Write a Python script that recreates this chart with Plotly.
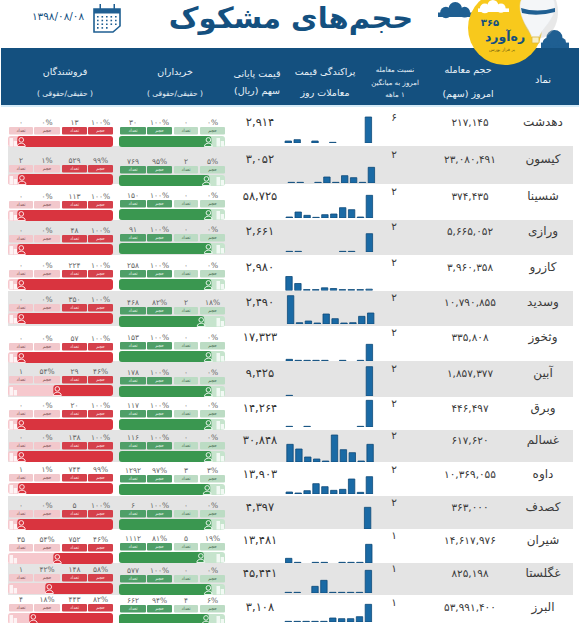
"""Suspicious-volume table (حجم‌های مشکوک): one full-page pixel axis for the table, one small axis per row for the bars."""
import plotly.graph_objects as go

W, H = 585, 623
NAVY, NAVY2, GREY = "#14507f", "#1f5f92", "#e4e4e4"
INK = "#3a3a3a"
FONT = "DejaVu Sans"

SYMBOLS = ["دهدشت", "کیسون", "شسینا", "ورازی", "کازرو", "وسدید", "وثخوز", "آبین",
           "وبرق", "غسالم", "داوه", "کصدف", "شیران", "غگلستا", "البرز"]
VOLUMES = ["۲۱۷,۱۴۵", "۲۳,۰۸۰,۴۹۱", "۳۷۴,۴۳۵", "۵,۶۶۵,۰۵۲", "۳,۹۶۰,۳۵۸", "۱۰,۷۹۰,۸۵۵",
           "۳۳۵,۸۰۸", "۱,۸۵۷,۳۷۷", "۴۴۶,۴۹۷", "۶۱۷,۶۲۰", "۱۰,۳۶۹,۰۵۵", "۳۶۳,۰۰۰",
           "۱۴,۶۱۷,۹۷۶", "۸۲۵,۱۹۸", "۵۳,۹۹۱,۴۰۰"]
RATIOS = [6, 2, 2, 2, 2, 2, 2, 2, 2, 2, 2, 2, 1, 1, 1]
PRICES = ["۲,۹۱۴", "۳,۰۵۲", "۵۸,۷۲۵", "۲,۶۶۱", "۲,۹۸۰", "۲,۴۹۰", "۱۷,۳۲۳", "۹,۴۲۵",
          "۱۴,۲۶۴", "۳۰,۸۴۸", "۱۳,۹۰۳", "۴,۳۹۷", "۱۳,۴۸۱", "۴۵,۴۴۱", "۳,۱۰۸"]

# price distribution, ten bins per row, heights (None = empty bin)
PRICE_DIST = [
    [6, 10, None, 6, None, 2, None, None, None, 78],
    [2, 2, None, 2, 18, 2, 22, 16, 2, 47],
    [3, 18, 8, 2, 10, 12, 31, 25, 3, 68],
    [2, 2, None, None, None, None, 2, 2, None, 55],
    [42, 21, 3, 3, 8, 6, 3, 3, 3, 4],
    [85, 4, 9, 3, 30, 16, 3, 4, 23, 33],
    [5, 2, 2, 2, 2, None, 2, None, 2, 50],
    [2, None, None, None, None, None, None, None, None, 88],
    [2, None, 2, None, None, None, None, None, 2, 80],
    [53, 39, 15, 9, 3, 81, 37, 28, 3, 53],
    [6, 3, 10, 31, 22, 11, 14, 45, 5, 52],
    [None, None, None, None, None, None, None, None, None, 65],
    [14, 2, None, 2, 2, None, 2, 2, 2, 56],
    [2, 2, None, 20, 38, 2, 2, 2, 2, 68],
    [2, 2, 2, 2, 2, 12, 10, 10, 16, 53],
]
BINS = list(range(10))

# traders: count and volume share, natural persons and legal persons
BUY_REAL_N = [30, 769, 150, 91, 258, 468, 153, 178, 117, 116, 1292, 6, 1112, 577, 662]
BUY_REAL_PCT = [100, 95, 100, 100, 100, 82, 100, 100, 100, 100, 97, 100, 81, 100, 94]
BUY_LEGAL_N = [0, 2, 0, 0, 0, 2, 0, 0, 0, 0, 3, 0, 5, 0, 4]
SELL_REAL_N = [13, 529, 113, 48, 224, 350, 57, 29, 20, 138, 744, 5, 752, 148, 443]
SELL_REAL_PCT = [100, 99, 100, 100, 100, 100, 100, 46, 100, 100, 99, 100, 46, 58, 82]
SELL_LEGAL_N = [0, 2, 0, 0, 0, 0, 0, 1, 0, 0, 1, 0, 35, 1, 4]

# row layout, in page pixels (the rows of the source are not quite regular)
BAND_EDGES = [105, 146, 184, 220, 255, 291, 326, 361, 397, 430, 462, 496, 529, 563, 595, 623]
TEXT_Y = [123, 160, 197, 232, 268, 303, 338, 374, 409, 441, 475, 508, 541, 574, 608]
SPARK_BASE = [143, 183, 218, 252, 290.5, 324, 361, 396, 427, 462, 494, 529, 563, 593, 622]
SPARK_X = [288.3, 291.3, 289.3, 289.3, 289, 290.6, 289.3, 289.3, 289.3, 290, 289.3, 287.5, 288.7, 288.3, 288.3]
SELL_TOP = [127, 165, 201, 235, 270, 304, 343, 376, 410, 442, 474, 510, 544, 574, 604]
BUY_TOP = [127, 166, 200, 234, 270, 307, 342, 377, 410, 442, 475, 510, 543, 575, 605]

C_BUY, C_BUY_L, C_BUY_PILL = "#3a9750", "#c6e4cd", "#bcdcc4"
C_BUY_D = "#4f9f68"
C_SELL, C_SELL_L, C_SELL_PILL = "#d9343f", "#f6c8cd", "#f2c8cc"
C_SELL_D = "#d5404b"


def fa(n):
    return str(n).translate(str.maketrans("0123456789", "۰۱۲۳۴۵۶۷۸۹"))


def pct(n):
    return fa(n) + "%"


def rtl(s):
    return "\u200f" + s + "\u200f"


def circle(cx, cy, rx, ry=None, fill=None, line=None, lw=1, layer="below"):
    ry = rx if ry is None else ry
    return dict(type="circle", x0=cx - rx, x1=cx + rx, y0=cy - ry, y1=cy + ry, layer=layer,
                fillcolor=fill or "rgba(0,0,0,0)", line=dict(color=line or "rgba(0,0,0,0)", width=lw))


def rect(x0, y0, x1, y1, fill, line=None, lw=0, layer="below"):
    return dict(type="rect", x0=x0, x1=x1, y0=y0, y1=y1, fillcolor=fill, layer=layer,
                line=dict(color=line or fill, width=lw))


def cloud(x0, y1, w, h, fill):
    return [rect(x0, y1 - h * 0.3, x0 + w, y1, fill),
            circle(x0 + w * 0.22, y1 - h * 0.3, w * 0.16, fill=fill),
            circle(x0 + w * 0.48, y1 - h * 0.55, h * 0.45, fill=fill),
            circle(x0 + w * 0.74, y1 - h * 0.32, w * 0.15, fill=fill)]


def person(cx, top, col):
    return [circle(cx, top + 3.4, 2.3, line=col, lw=1, layer="above"),
            dict(type="path", path=f"M {cx-4} {top+10} C {cx-4} {top+5.6} {cx+4} {top+5.6} {cx+4} {top+10} Z",
                 fillcolor="rgba(0,0,0,0)", line=dict(color=col, width=1), layer="above")]


def building(x, top, col):
    return [rect(x, top + 2, x + 3.5, top + 10.5, col, layer="above"),
            rect(x + 4.2, top + 5, x + 7.5, top + 10.5, col, layer="above")]


shapes = []
for i in range(1, len(BAND_EDGES) - 1, 2):
    shapes.append(rect(8, BAND_EDGES[i], 573, BAND_EDGES[i + 1], GREY))

# header band
shapes.append(rect(1, 48, 579, 105, NAVY))
shapes.append(rect(1, 105, 579, 107, "#d5ebf8"))

# calendar icon
shapes.append(dict(type="path", path="M 94 9 L 120 9 L 120 26 L 113 32 L 94 32 Z", layer="below",
                   fillcolor="white", line=dict(color=NAVY2, width=1.6)))
shapes.append(rect(94, 9, 120, 13.5, NAVY2))
shapes.append(rect(99.5, 4, 101, 10, NAVY2))
shapes.append(rect(113.5, 4, 115, 10, NAVY2))
for r in range(4):
    for c in range(5):
        if not (r == 3 and c > 2):
            shapes.append(rect(97 + c * 4.5, 16 + r * 3.7, 98.6 + c * 4.5, 17.6 + r * 3.7, NAVY2))

# logo, clouds and balloon
shapes += cloud(438, 17, 36, 15, NAVY2)
shapes += cloud(541, 48, 28, 18, NAVY2)
shapes.append(circle(505, 28, 37, fill="#f8c91c"))
shapes += cloud(478, 12, 31, 12, "white")
shapes.append(circle(540, 12, 18, 26, fill="rgba(190,190,190,0.35)"))
shapes.append(dict(type="path", path="M 520 6 C 520 -14 555 -14 555 6 C 555 20 542 28 539 37 L 532 37 C 529 28 520 20 520 6 Z",
                   fillcolor="#f4f6f8", line=dict(color="#e4e8ec", width=0.5), layer="below"))
shapes.append(dict(type="path", path="M 521 8 Q 537 13 555 8 L 555 12 Q 537 17 522 13 Z", layer="below",
                   fillcolor=NAVY2, line=dict(color=NAVY2, width=0)))
shapes.append(rect(532, 37, 539, 43, "#f7efc4", "#e0b93a", 0.8))

# pills and share bars: (trace colour) -> lists of base, width, centre, thickness
bar_sets = {}


def add_bar(col, radius, x0, x1, y0, y1):
    key = (col, radius)
    d = bar_sets.setdefault(key, dict(base=[], x=[], y=[], width=[]))
    d["base"].append(x0)
    d["x"].append(x1 - x0)
    d["y"].append((y0 + y1) / 2)
    d["width"].append(y1 - y0)


SELL_PILLS = [(9, 33, C_SELL_PILL, "#7a4a4f"), (34, 60, C_SELL_PILL, "#7a4a4f"),
              (62, 87, C_SELL_D, "#fbe3e5"), (88, 113, C_SELL_D, "#fbe3e5")]
BUY_PILLS = [(120, 146, C_BUY_D, "#e4f3e8"), (147, 172, C_BUY_D, "#e4f3e8"),
             (174, 198, C_BUY_PILL, "#3f6a4c"), (200, 225, C_BUY_PILL, "#3f6a4c")]
PILL_WORDS = ["تعداد", "حجم", "تعداد", "حجم"]

num_x, num_y, num_t = [], [], []
pill_groups = {}
for i in range(len(SYMBOLS)):
    st, bt = SELL_TOP[i], BUY_TOP[i]
    sell_vals = [fa(SELL_LEGAL_N[i]), pct(100 - SELL_REAL_PCT[i]), fa(SELL_REAL_N[i]), pct(SELL_REAL_PCT[i])]
    buy_vals = [fa(BUY_REAL_N[i]), pct(BUY_REAL_PCT[i]), fa(BUY_LEGAL_N[i]), pct(100 - BUY_REAL_PCT[i])]
    for pills, vals, top in ((SELL_PILLS, sell_vals, st), (BUY_PILLS, buy_vals, bt)):
        for (x0, x1, col, tcol), val, word in zip(pills, vals, PILL_WORDS):
            add_bar(col, 1.5, x0, x1, top, top + 7.5)
            num_x.append((x0 + x1) / 2)
            num_y.append(top - 4)
            num_t.append(val)
            g = pill_groups.setdefault(tcol, ([], [], []))
            g[0].append((x0 + x1) / 2)
            g[1].append(top + 3.9)
            g[2].append(word)

    # the source squeezes the share bars: the dark part never gets near zero
    sell_w = 29 + 0.667 * SELL_REAL_PCT[i]
    add_bar(C_SELL_L, 3, 8, 113, st + 9, st + 20)
    add_bar(C_SELL, 3, 113 - sell_w, 113, st + 9, st + 20)
    buy_w = 52.5 + 0.399 * BUY_REAL_PCT[i]
    add_bar(C_BUY_L, 3, 119, 225, bt + 9, bt + 20)
    add_bar(C_BUY, 3, 119, 119 + buy_w, bt + 9, bt + 20)

    shapes += building(9.5, st + 9, "#fdf3f4")
    shapes += person(113 - sell_w + 4, st + 9.5, "#fde4e6")
    shapes += building(216.5, bt + 9, "#f2f9f4")
    shapes += person(119 + buy_w - 3, bt + 9.5, "#e6f4ea")

fig = go.Figure()
for (col, radius), d in bar_sets.items():
    fig.add_trace(go.Bar(orientation="h", base=d["base"], x=d["x"], y=d["y"], width=d["width"],
                         marker=dict(color=col, cornerradius=radius, line=dict(width=0)),
                         hoverinfo="skip", showlegend=False))


def add_text(x, y, text, size, color):
    fig.add_trace(go.Scatter(x=x, y=y, text=text, mode="text", hoverinfo="skip", showlegend=False,
                             textposition="middle center", textfont=dict(family=FONT, size=size, color=color)))


add_text(num_x, num_y, num_t, 7.5, "#666666")
for tcol, (px, py, pt) in pill_groups.items():
    add_text(px, py, pt, 4.5, tcol)
add_text([543] * len(SYMBOLS), TEXT_Y, SYMBOLS, 12, INK)
add_text([470] * len(VOLUMES), TEXT_Y, VOLUMES, 10.5, INK)
add_text([394] * len(RATIOS), [y - 5 for y in TEXT_Y], [fa(r) for r in RATIOS], 10.5, INK)
add_text([260] * len(PRICES), TEXT_Y, PRICES, 11.5, "#333333")

# header labels
add_text([543], [80], ["نماد"], 10, "#e8f1f8")
add_text([468, 468], [71, 95], ["حجم معامله", rtl("امروز (سهم)")], 9.5, "#e8f1f8")
add_text([395, 395, 395], [70, 83, 95], ["نسبت معامله", "امروز به میانگین", rtl("۱ ماهه")], 7, "#e8f1f8")
add_text([325, 325], [73, 94], ["پراکندگی قیمت", "معاملات روز"], 9.5, "#e8f1f8")
add_text([257, 257], [75, 92], ["قیمت پایانی", rtl("سهم (ریال)")], 9.5, "#e8f1f8")
add_text([175, 65], [73, 73], ["خریداران", "فروشندگان"], 9.5, "#e8f1f8")
add_text([175, 65], [94, 94], [rtl("( حقیقی/حقوقی )"), rtl("( حقیقی/حقوقی )")], 7.5, "#e8f1f8")

# title block and logo text
add_text([291], [21], ["<b>حجم\u200cهای مشکوک</b>"], 29, NAVY)
add_text([58], [17], ["۱۳۹۸/۰۸/۰۸"], 10.5, NAVY)
add_text([490], [23], ["<b>۳۶۵</b>"], 10, NAVY)
add_text([505], [38], ["<b>ره\u200cآورد</b>"], 12.5, NAVY)
add_text([502], [50], ["بر فراز بورس"], 4.5, "#6a5a10")

layout_axes = {}
for i, vals in enumerate(PRICE_DIST):
    n = i + 2
    x0 = SPARK_X[i] - 4.45
    y0 = SPARK_BASE[i]
    fig.add_trace(go.Bar(x=BINS, y=vals, xaxis=f"x{n}", yaxis=f"y{n}", width=0.72,
                         marker=dict(color="#1a6aa5", line=dict(color="#0f4a78", width=0.8)),
                         hoverinfo="skip", showlegend=False))
    layout_axes[f"xaxis{n}"] = dict(domain=[x0 / W, (x0 + 89) / W], range=[-0.5, 9.5],
                                    visible=False, fixedrange=True, anchor=f"y{n}")
    layout_axes[f"yaxis{n}"] = dict(domain=[1 - y0 / H, 1 - (y0 - 30) / H], range=[0, 90],
                                    visible=False, fixedrange=True, anchor=f"x{n}")

fig.update_layout(
    width=W, height=H, margin=dict(l=0, r=0, t=0, b=0), autosize=False,
    paper_bgcolor="white", plot_bgcolor="rgba(0,0,0,0)", barmode="overlay", showlegend=False,
    xaxis=dict(range=[0, W], domain=[0, 1], visible=False, fixedrange=True),
    yaxis=dict(range=[H, 0], domain=[0, 1], visible=False, fixedrange=True),
    shapes=[dict(s, xref="x", yref="y") for s in shapes],
    **layout_axes,
)
fig.write_html("out.html", config={"displayModeBar": False},
               post_script="document.body.style.margin='0';document.body.style.overflow='hidden';")
